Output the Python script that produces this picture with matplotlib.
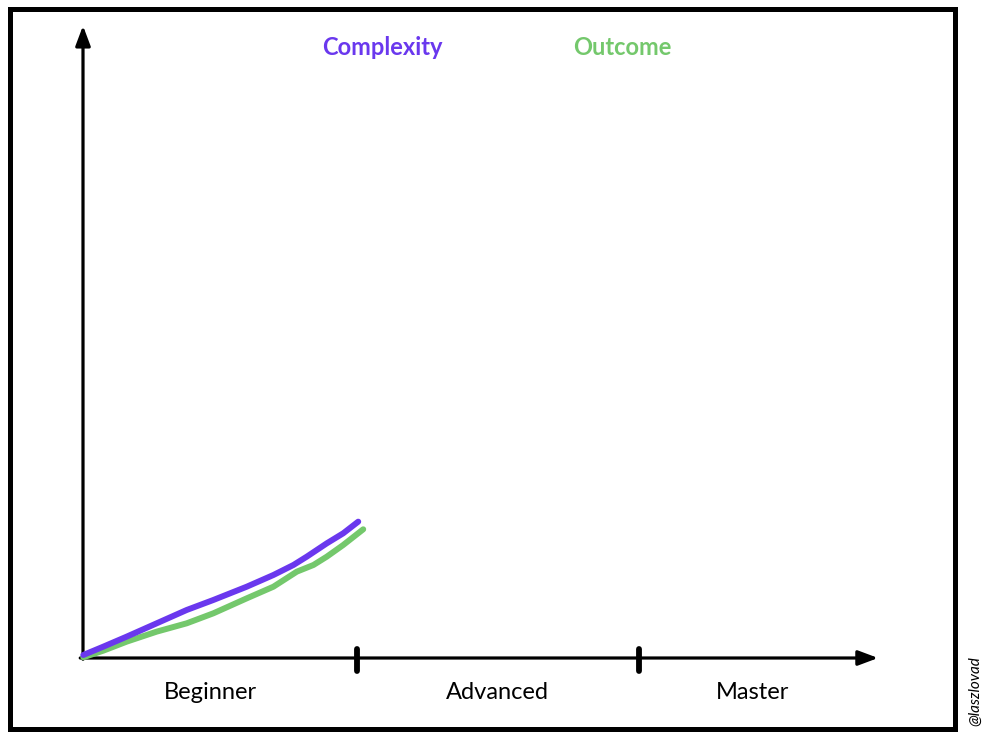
import matplotlib
matplotlib.use("Agg")
import matplotlib.pyplot as plt
from matplotlib.patches import Rectangle

# stages on x axis (about one unit per stage)
stages = ["Beginner", "Advanced", "Master"]
stage_label_x = [0.46, 1.49, 2.41]
stage_ticks = [0.985, 2.0]

# hand-drawn curves (Beginner segment only)
complexity_x = [0.001, 0.073, 0.157, 0.265, 0.373, 0.469, 0.589,
                0.685, 0.757, 0.805, 0.877, 0.936, 0.990]
complexity_y = [0.048, 0.181, 0.341, 0.554, 0.767, 0.927, 1.139,
                1.326, 1.486, 1.619, 1.832, 1.992, 2.178]
outcome_x = [0.001, 0.073, 0.157, 0.265, 0.373, 0.469, 0.589,
             0.685, 0.769, 0.829, 0.877, 0.936, 1.008]
outcome_y = [0.011, 0.117, 0.261, 0.421, 0.554, 0.714, 0.953,
             1.139, 1.379, 1.486, 1.619, 1.805, 2.056]

PURPLE = "#6a38ee"
GREEN = "#74c86c"
FONT = ["Lato", "DejaVu Sans"]

fig = plt.figure(figsize=(10, 7.44), dpi=100)
ax = fig.add_axes([0, 0, 1, 1])
# pixel mapping: x=0 at px 83, 278 px/unit ; y=0 at py 658, 62.6 px/unit
ax.set_xlim(-83 / 278, (1000 - 83) / 278)
ax.set_ylim((658 - 744) / 62.6, 658 / 62.6)
ax.axis("off")

# outer frame
fig.patches.append(Rectangle((9.5 / 1000, 1 - 728.5 / 744), 945 / 1000, 719.5 / 744,
                             transform=fig.transFigure, fill=False,
                             edgecolor="black", linewidth=3.6))

# axes arrows
arrow = dict(arrowstyle="-|>,head_width=0.45,head_length=1.2",
             color="black", lw=2.3, shrinkA=0, shrinkB=0)
ax.annotate("", xy=(0, 10.1), xytext=(0, -0.02), arrowprops=arrow)
ax.annotate("", xy=(2.86, 0), xytext=(-0.01, 0), arrowprops=arrow)
for t in stage_ticks:
    ax.plot([t, t], [-0.2, 0.14], color="black", lw=4.2, solid_capstyle="round")

ax.plot(outcome_x, outcome_y, color=GREEN, lw=4.3, solid_capstyle="round",
        solid_joinstyle="round", zorder=3)
ax.plot(complexity_x, complexity_y, color=PURPLE, lw=4.3, solid_capstyle="round",
        solid_joinstyle="round", zorder=4)

for s, xs in zip(stages, stage_label_x):
    ax.text(xs, -0.55, s, ha="center", va="center", fontsize=17, family=FONT)

ax.text((382 - 83) / 278, (658 - 48) / 62.6, "Complexity", color=PURPLE,
        ha="center", va="center", fontsize=17, fontweight="bold", family=FONT)
ax.text((622 - 83) / 278, (658 - 48) / 62.6, "Outcome", color=GREEN,
        ha="center", va="center", fontsize=17, fontweight="bold", family=FONT)

fig.text(975 / 1000, 1 - 691 / 744, "@laszlovad", rotation=90, ha="center",
         va="center", fontsize=11, style="italic", family=FONT)

fig.savefig("out.png", dpi=100)
